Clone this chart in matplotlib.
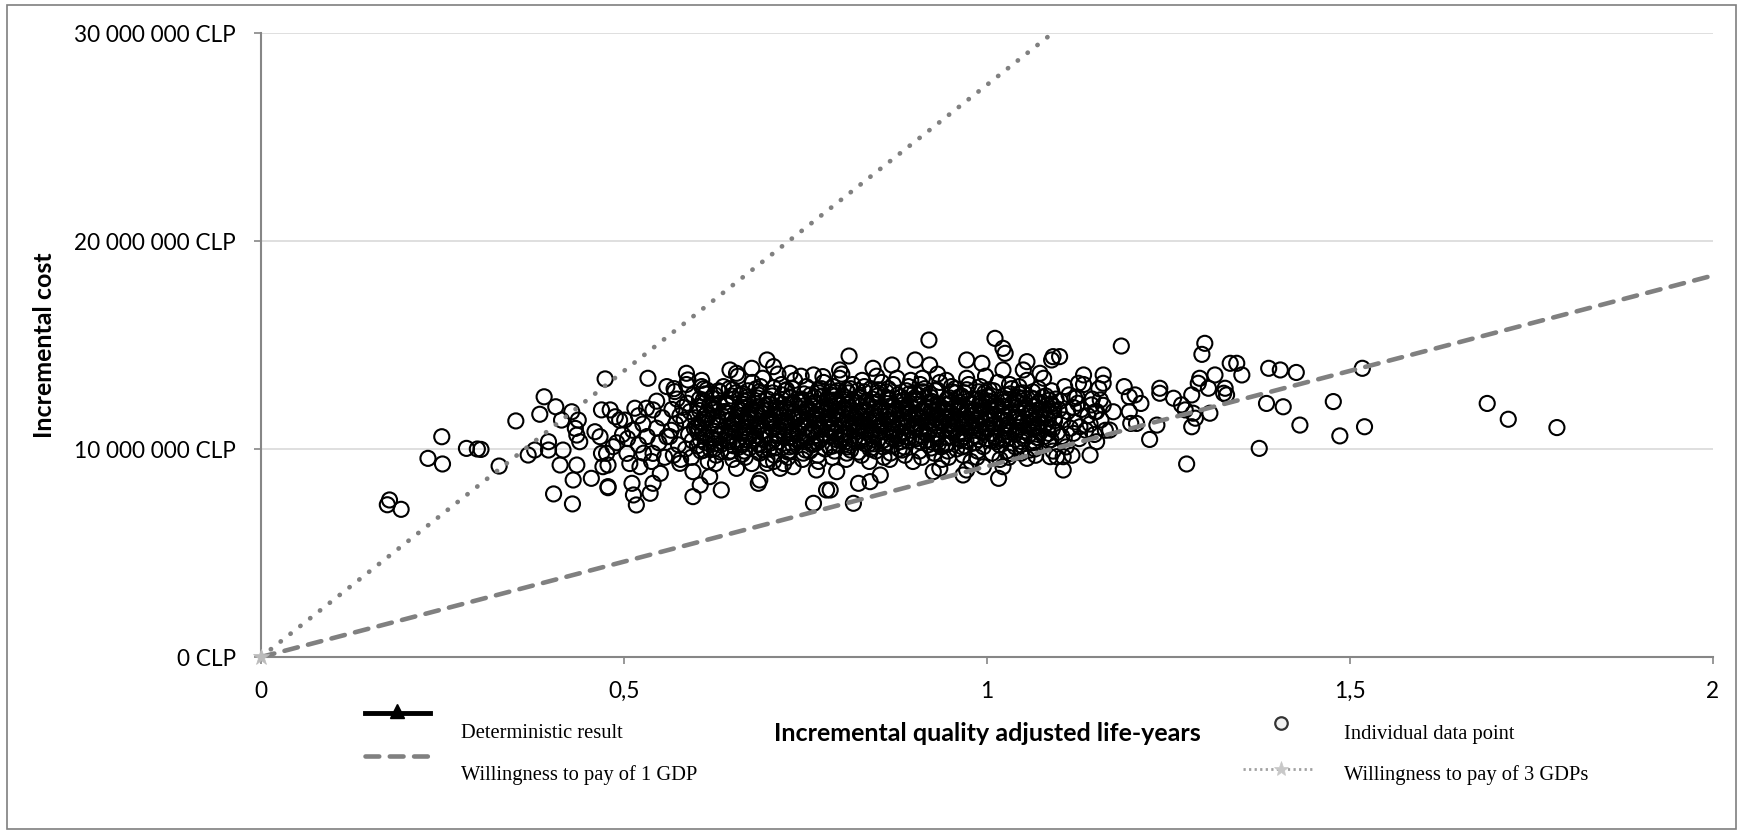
import matplotlib
matplotlib.use("Agg")
from matplotlib import pyplot as plt
from matplotlib.lines import Line2D
from matplotlib.patches import Rectangle
from matplotlib.ticker import FuncFormatter

# incremental QALY, incremental cost in millions of CLP
left_tail = [
    (0.177, 7.55), (0.174, 7.32), (0.193, 7.10), (0.249, 10.59), (0.230, 9.55), (0.250, 9.28),
    (0.283, 10.03), (0.298, 10.0), (0.303, 9.98), (0.328, 9.18), (0.351, 11.35), (0.390, 12.51),
    (0.384, 11.67), (0.406, 12.03), (0.368, 9.71), (0.377, 9.95), (0.396, 10.35), (0.396, 9.95),
    (0.414, 11.39), (0.428, 11.79), (0.437, 11.39), (0.433, 10.99), (0.435, 10.67), (0.439, 10.35),
    (0.416, 9.95), (0.412, 9.23), (0.435, 9.23), (0.430, 8.51), (0.403, 7.84), (0.429, 7.36),
    (0.455, 8.59), (0.478, 8.14), (0.474, 13.37), (0.469, 11.88), (0.481, 11.88), (0.460, 10.83),
    (0.467, 10.59), (0.469, 9.79), (0.478, 9.23), (0.471, 9.15), (0.485, 10.11), (0.494, 11.39),
    (0.488, 11.55), (0.501, 11.39), (0.515, 11.96), (0.531, 11.96), (0.540, 11.88), (0.476, 9.79),
    (0.478, 8.19), (0.511, 8.35), (0.513, 7.79), (0.517, 7.31), (0.536, 7.87), (0.540, 8.35),
    (0.550, 8.83), (0.522, 9.15), (0.504, 9.79), (0.540, 9.79), (0.559, 10.59), (0.533, 13.40),
    (0.505, 10.5), (0.512, 10.9), (0.520, 10.2), (0.526, 11.2), (0.532, 10.6), (0.538, 9.4),
    (0.545, 11.0), (0.548, 10.3), (0.553, 11.5), (0.556, 9.6), (0.545, 12.3), (0.520, 11.6),
    (0.498, 10.7), (0.490, 10.3), (0.508, 9.3), (0.527, 9.8),
]

upper_edge = [
    (0.559, 13.0), (0.570, 12.76), (0.586, 13.64), (0.588, 13.32), (0.607, 13.0), (0.614, 12.84),
    (0.646, 13.80), (0.655, 13.64), (0.676, 13.88), (0.697, 14.28), (0.706, 13.96), (0.729, 13.64),
    (0.761, 13.56), (0.774, 13.48), (0.920, 15.24), (1.011, 15.32), (1.022, 14.84), (1.025, 14.60),
    (0.810, 14.47), (0.797, 13.80), (0.843, 13.88), (0.869, 14.04), (0.901, 14.28), (0.921, 14.04),
    (0.972, 14.28), (0.993, 14.12), (1.055, 14.20), (1.091, 14.44), (1.089, 14.28), (1.073, 13.64),
    (1.050, 13.80), (1.022, 13.80), (1.100, 14.44),
]

lower_edge = [
    (0.577, 9.31), (0.595, 7.71), (0.605, 8.27), (0.618, 8.67), (0.634, 8.03), (0.595, 8.91),
    (0.655, 9.07), (0.685, 8.35), (0.687, 8.51), (0.697, 9.31), (0.715, 9.07), (0.733, 9.15),
    (0.761, 7.39), (0.779, 8.03), (0.765, 8.99), (0.793, 8.91), (0.784, 8.03), (0.823, 8.35),
    (0.839, 8.43), (0.816, 7.39), (0.853, 8.75), (0.926, 8.91), (0.935, 9.07), (0.967, 8.75),
    (0.972, 8.99), (0.995, 9.15), (1.016, 8.59), (1.022, 9.15), (1.055, 9.55), (1.087, 9.63),
    (1.096, 9.63), (0.995, 10.11), (1.032, 9.79), (1.059, 9.95),
]

right_tail = [
    (1.185, 14.95), (1.300, 15.08), (1.296, 14.55), (1.335, 14.12), (1.344, 14.12), (1.351, 13.56),
    (1.388, 13.88), (1.404, 13.80), (1.314, 13.56), (1.293, 13.40), (1.291, 13.16), (1.305, 12.92),
    (1.328, 12.92), (1.326, 12.68), (1.330, 12.60), (1.282, 12.60), (1.238, 12.92), (1.238, 12.68),
    (1.257, 12.44), (1.268, 12.12), (1.273, 11.88), (1.284, 11.72), (1.287, 11.48), (1.307, 11.72),
    (1.282, 11.07), (1.385, 12.19), (1.408, 12.03), (1.375, 10.03), (1.275, 9.28), (1.234, 11.15),
    (1.224, 10.46), (1.212, 12.19), (1.204, 12.60), (1.196, 12.51), (1.189, 13.0), (1.196, 11.79),
    (1.198, 11.23), (1.206, 11.23), (1.174, 11.79), (1.160, 13.56), (1.160, 13.16), (1.133, 13.56),
    (1.126, 13.16), (1.121, 12.44), (1.144, 12.12), (1.149, 11.79), (1.156, 12.36), (1.169, 10.91),
    (1.151, 10.35), (1.142, 9.71), (1.128, 11.07), (1.119, 10.75), (1.105, 9.63), (1.105, 8.99),
    (1.426, 13.68), (1.517, 13.88), (1.477, 12.28), (1.431, 11.15), (1.486, 10.63), (1.520, 11.07),
    (1.689, 12.19), (1.718, 11.43), (1.785, 11.03),
]

core = [
    (0.563, 10.6), (0.566, 11.9), (0.568, 9.7), (0.571, 11.2), (0.573, 12.4), (0.575, 10.2), (0.577, 11.6), (0.569, 12.9), (0.565, 10.9), (0.578, 9.5),
    (0.583, 11.4), (0.585, 10.0), (0.587, 12.2), (0.589, 10.7), (0.591, 11.8), (0.593, 9.6), (0.595, 12.6), (0.597, 11.0), (0.586, 13.1), (0.594, 10.4), (0.598, 11.5), (0.581, 12.0),
    (0.602, 10.8), (0.604, 12.4), (0.606, 9.9), (0.608, 11.3), (0.610, 12.9), (0.612, 10.3), (0.614, 11.7), (0.616, 9.4), (0.618, 12.1), (0.603, 11.0), (0.607, 13.3), (0.611, 10.6), (0.615, 11.5), (0.619, 10.0),
    (0.621, 11.9), (0.623, 10.5), (0.625, 12.6), (0.627, 9.7), (0.629, 11.1), (0.631, 12.2), (0.633, 10.2), (0.635, 11.6), (0.637, 13.0), (0.639, 10.9), (0.622, 11.4), (0.626, 9.3), (0.630, 12.8), (0.634, 10.7), (0.638, 11.8), (0.624, 10.0),
    (0.641, 10.4), (0.643, 11.7), (0.645, 12.9), (0.647, 9.9), (0.649, 11.2), (0.651, 12.4), (0.653, 10.8), (0.655, 11.5), (0.657, 13.5), (0.659, 10.1), (0.642, 12.1), (0.646, 11.0), (0.650, 9.5), (0.654, 12.7), (0.658, 11.9), (0.644, 10.6), (0.652, 11.3), (0.656, 10.3),
    (0.661, 11.6), (0.663, 10.2), (0.665, 12.3), (0.667, 9.6), (0.669, 11.0), (0.671, 12.8), (0.673, 10.6), (0.675, 11.9), (0.677, 13.2), (0.679, 10.9), (0.662, 11.3), (0.666, 9.9), (0.670, 12.5), (0.674, 11.4), (0.678, 10.4), (0.664, 12.0), (0.668, 10.8), (0.672, 11.7), (0.676, 9.3), (0.660, 12.6),
    (0.681, 10.5), (0.683, 11.8), (0.685, 12.6), (0.687, 9.8), (0.689, 11.2), (0.691, 13.4), (0.693, 10.9), (0.695, 12.1), (0.697, 9.5), (0.699, 11.5), (0.682, 12.9), (0.686, 10.2), (0.690, 11.7), (0.694, 10.7), (0.698, 12.4), (0.684, 11.0), (0.688, 13.0), (0.692, 10.0), (0.696, 11.3), (0.680, 12.2),
    (0.701, 11.9), (0.703, 10.3), (0.705, 12.7), (0.707, 9.7), (0.709, 11.1), (0.711, 12.3), (0.713, 10.7), (0.715, 11.6), (0.717, 13.1), (0.719, 10.1), (0.702, 11.4), (0.706, 9.4), (0.710, 12.0), (0.714, 10.9), (0.718, 12.6), (0.704, 11.2), (0.708, 10.5), (0.712, 13.6), (0.716, 11.8), (0.700, 10.0),
    (0.721, 10.6), (0.723, 12.0), (0.725, 11.3), (0.727, 9.9), (0.729, 12.5), (0.731, 10.9), (0.733, 11.7), (0.735, 13.3), (0.737, 10.3), (0.739, 11.5), (0.722, 12.8), (0.726, 9.6), (0.730, 11.1), (0.734, 12.2), (0.738, 10.8), (0.724, 11.9), (0.728, 10.1), (0.732, 12.9), (0.736, 11.4), (0.720, 9.3),
    (0.741, 11.7), (0.743, 10.4), (0.745, 12.4), (0.747, 9.8), (0.749, 11.0), (0.751, 13.0), (0.753, 10.7), (0.755, 11.9), (0.757, 12.6), (0.759, 10.2), (0.742, 11.3), (0.746, 9.5), (0.750, 12.1), (0.754, 11.5), (0.758, 10.9), (0.744, 13.5), (0.748, 10.6), (0.752, 11.8), (0.756, 9.9), (0.740, 12.3),
    (0.761, 10.8), (0.763, 12.2), (0.765, 11.4), (0.767, 9.7), (0.769, 12.7), (0.771, 10.5), (0.773, 11.6), (0.775, 13.2), (0.777, 10.0), (0.779, 11.9), (0.762, 12.5), (0.766, 10.3), (0.770, 11.1), (0.774, 12.0), (0.778, 10.7), (0.764, 11.7), (0.768, 9.4), (0.772, 12.9), (0.776, 11.3), (0.760, 10.9),
    (0.781, 11.5), (0.783, 10.1), (0.785, 12.6), (0.787, 9.6), (0.789, 11.2), (0.791, 12.2), (0.793, 10.8), (0.795, 11.8), (0.797, 13.4), (0.799, 10.4), (0.782, 12.0), (0.786, 11.0), (0.790, 9.9), (0.794, 12.8), (0.798, 11.4), (0.784, 10.6), (0.788, 13.0), (0.792, 11.6), (0.796, 10.2), (0.780, 12.4),
    (0.801, 10.7), (0.803, 12.0), (0.805, 11.3), (0.807, 9.8), (0.809, 12.7), (0.811, 10.3), (0.813, 11.7), (0.815, 13.1), (0.817, 10.9), (0.819, 11.5), (0.802, 12.4), (0.806, 9.5), (0.810, 11.0), (0.814, 12.3), (0.818, 10.5), (0.804, 11.9), (0.808, 10.1), (0.812, 12.9), (0.816, 11.2), (0.800, 13.6),
    (0.821, 11.8), (0.823, 10.4), (0.825, 12.5), (0.827, 9.7), (0.829, 11.1), (0.831, 13.0), (0.833, 10.8), (0.835, 12.1), (0.837, 11.4), (0.839, 10.0), (0.822, 12.8), (0.826, 11.6), (0.830, 10.6), (0.834, 12.3), (0.838, 9.4), (0.824, 11.0), (0.828, 13.3), (0.832, 11.9), (0.836, 10.2), (0.820, 11.3),
    (0.841, 10.9), (0.843, 12.2), (0.845, 11.5), (0.847, 9.9), (0.849, 12.7), (0.851, 10.5), (0.853, 11.8), (0.855, 13.2), (0.857, 10.1), (0.859, 11.2), (0.842, 12.4), (0.846, 10.7), (0.850, 11.0), (0.854, 12.0), (0.858, 9.6), (0.844, 11.7), (0.848, 13.5), (0.852, 11.3), (0.856, 10.4), (0.840, 12.9),
    (0.861, 11.6), (0.863, 10.3), (0.865, 12.4), (0.867, 9.8), (0.869, 11.2), (0.871, 13.1), (0.873, 10.7), (0.875, 11.9), (0.877, 12.6), (0.879, 10.0), (0.862, 11.4), (0.866, 9.5), (0.870, 12.1), (0.874, 11.0), (0.878, 10.5), (0.864, 12.9), (0.868, 10.9), (0.872, 11.7), (0.876, 13.4), (0.860, 10.2),
    (0.881, 10.8), (0.883, 12.1), (0.885, 11.3), (0.887, 9.7), (0.889, 12.8), (0.891, 10.4), (0.893, 11.7), (0.895, 13.3), (0.897, 10.9), (0.899, 11.5), (0.882, 12.5), (0.886, 10.1), (0.890, 11.1), (0.894, 12.2), (0.898, 9.4), (0.884, 11.9), (0.888, 10.6), (0.892, 13.0), (0.896, 11.4), (0.880, 12.3),
    (0.901, 11.7), (0.903, 10.5), (0.905, 12.6), (0.907, 9.9), (0.909, 11.0), (0.911, 13.4), (0.913, 10.8), (0.915, 12.0), (0.917, 11.3), (0.919, 10.2), (0.902, 12.3), (0.906, 11.5), (0.910, 9.6), (0.914, 12.9), (0.918, 10.7), (0.904, 11.1), (0.908, 13.1), (0.912, 11.8), (0.916, 10.4), (0.900, 12.7),
    (0.921, 10.9), (0.923, 12.3), (0.925, 11.6), (0.927, 9.8), (0.929, 12.8), (0.931, 10.6), (0.933, 11.9), (0.935, 13.2), (0.937, 10.1), (0.939, 11.3), (0.922, 12.5), (0.926, 10.3), (0.930, 11.1), (0.934, 12.1), (0.938, 9.5), (0.924, 11.8), (0.928, 10.7), (0.932, 13.6), (0.936, 11.4), (0.920, 12.0),
    (0.941, 11.5), (0.943, 10.2), (0.945, 12.4), (0.947, 9.6), (0.949, 11.2), (0.951, 13.0), (0.953, 10.8), (0.955, 12.0), (0.957, 12.7), (0.959, 10.5), (0.942, 11.8), (0.946, 9.9), (0.950, 12.2), (0.954, 11.0), (0.958, 10.0), (0.944, 13.3), (0.948, 10.9), (0.952, 11.6), (0.956, 12.9), (0.940, 11.3),
    (0.961, 10.7), (0.963, 12.1), (0.965, 11.4), (0.967, 9.7), (0.969, 12.7), (0.971, 10.4), (0.973, 11.8), (0.975, 13.1), (0.977, 11.0), (0.979, 11.6), (0.962, 12.5), (0.966, 10.1), (0.970, 11.2), (0.974, 12.3), (0.978, 9.4), (0.964, 11.9), (0.968, 10.6), (0.972, 13.4), (0.976, 11.3), (0.960, 12.0),
    (0.981, 11.6), (0.983, 10.3), (0.985, 12.4), (0.987, 9.9), (0.989, 11.1), (0.991, 13.0), (0.993, 10.8), (0.995, 12.0), (0.997, 12.7), (0.999, 10.5), (0.982, 11.8), (0.986, 9.6), (0.990, 12.2), (0.994, 11.3), (0.998, 13.5), (0.984, 10.9),
    (1.001, 11.0), (1.003, 12.3), (1.005, 11.5), (1.007, 9.8), (1.009, 12.8), (1.011, 10.6), (1.013, 11.9), (1.015, 13.2), (1.017, 10.2), (1.019, 11.4), (1.002, 12.5), (1.006, 10.4), (1.010, 11.2), (1.014, 12.1), (1.018, 9.5), (1.004, 11.7),
    (1.021, 11.8), (1.023, 10.5), (1.025, 12.6), (1.027, 9.9), (1.029, 11.2), (1.031, 13.1), (1.033, 10.8), (1.035, 12.2), (1.037, 11.5), (1.039, 10.1), (1.022, 12.4), (1.026, 11.0), (1.030, 9.6), (1.034, 12.9), (1.038, 10.7), (1.024, 11.6),
    (1.041, 10.9), (1.043, 12.2), (1.045, 11.4), (1.047, 9.8), (1.049, 12.7), (1.051, 10.5), (1.053, 11.9), (1.055, 13.3), (1.057, 11.1), (1.059, 11.7), (1.042, 12.5), (1.046, 10.2), (1.050, 11.3), (1.054, 12.0), (1.058, 10.7), (1.044, 13.0),
    (1.061, 11.5), (1.063, 10.3), (1.065, 12.4), (1.067, 9.7), (1.069, 11.1), (1.071, 12.9), (1.073, 10.8), (1.075, 11.9), (1.077, 12.5), (1.079, 10.6), (1.062, 11.8), (1.066, 10.0), (1.070, 12.2), (1.074, 11.3), (1.078, 13.4), (1.064, 11.0),
    (1.081, 11.2), (1.083, 12.1), (1.085, 10.4), (1.087, 11.7), (1.089, 12.8), (1.091, 9.9), (1.093, 11.5), (1.095, 12.4), (1.097, 10.8), (1.099, 11.9),
    (1.101, 12.3), (1.103, 10.6), (1.105, 11.4), (1.107, 13.0), (1.109, 10.1), (1.111, 11.8), (1.113, 12.6), (1.115, 11.0), (1.117, 9.7), (1.119, 12.0),
    (1.121, 11.3), (1.124, 12.5), (1.127, 10.5), (1.130, 11.9), (1.133, 13.1), (1.136, 10.9), (1.139, 11.6), (1.125, 12.2),
    (1.142, 11.2), (1.145, 12.4), (1.148, 10.7), (1.151, 11.8), (1.154, 12.9), (1.157, 11.4), (1.160, 12.1), (1.163, 10.9),
]

core_fill = [
    (0.600, 11.05), (0.605, 10.45), (0.609, 12.35), (0.613, 11.65), (0.601, 10.15), (0.604, 11.85), (0.608, 10.75), (0.612, 12.65), (0.606, 11.25), (0.610, 9.95), (0.603, 12.05), (0.611, 11.45),
    (0.620, 10.55), (0.625, 11.95), (0.629, 11.15), (0.633, 9.85), (0.621, 12.45), (0.624, 10.85), (0.628, 11.55), (0.632, 12.75), (0.626, 10.25), (0.630, 11.35), (0.623, 12.15), (0.631, 10.65),
    (0.640, 12.25), (0.645, 10.35), (0.649, 11.45), (0.653, 10.95), (0.641, 11.75), (0.644, 9.85), (0.648, 12.55), (0.652, 11.15), (0.646, 10.65), (0.650, 12.85), (0.643, 11.35), (0.651, 10.15),
    (0.660, 10.75), (0.665, 12.15), (0.669, 11.35), (0.673, 10.05), (0.661, 11.85), (0.664, 12.65), (0.668, 10.45), (0.672, 11.55), (0.666, 11.05), (0.670, 12.35), (0.663, 9.75), (0.671, 11.75),
    (0.680, 11.45), (0.685, 10.25), (0.689, 12.05), (0.693, 11.85), (0.681, 10.65), (0.684, 12.45), (0.688, 11.15), (0.692, 9.95), (0.686, 12.75), (0.690, 10.85), (0.683, 11.65), (0.691, 10.45),
    (0.700, 12.15), (0.705, 10.95), (0.709, 11.65), (0.713, 10.35), (0.701, 11.25), (0.704, 12.55), (0.708, 10.05), (0.712, 11.85), (0.706, 12.95), (0.710, 10.65), (0.703, 11.45), (0.711, 12.25),
    (0.720, 10.85), (0.725, 11.75), (0.729, 12.45), (0.733, 10.15), (0.721, 11.35), (0.724, 12.85), (0.728, 10.55), (0.732, 11.55), (0.726, 9.85), (0.730, 12.15), (0.723, 11.05), (0.731, 10.75),
    (0.740, 11.55), (0.745, 12.25), (0.749, 10.35), (0.753, 11.95), (0.741, 10.75), (0.744, 11.15), (0.748, 12.65), (0.752, 10.55), (0.746, 11.75), (0.750, 9.95), (0.743, 12.35), (0.751, 11.35),
    (0.760, 12.05), (0.765, 10.65), (0.769, 11.25), (0.773, 12.55), (0.761, 10.25), (0.764, 11.65), (0.768, 12.85), (0.772, 10.95), (0.766, 11.45), (0.770, 10.45), (0.763, 12.25), (0.771, 11.85),
    (0.780, 10.95), (0.785, 11.85), (0.789, 12.35), (0.793, 10.45), (0.781, 11.45), (0.784, 12.75), (0.788, 10.15), (0.792, 11.65), (0.786, 12.05), (0.790, 10.75), (0.783, 11.25), (0.791, 12.55),
    (0.800, 11.65), (0.805, 10.35), (0.809, 12.15), (0.813, 11.25), (0.801, 12.55), (0.804, 10.75), (0.808, 11.45), (0.812, 9.95), (0.806, 12.85), (0.810, 11.05), (0.803, 10.55), (0.811, 11.85),
    (0.820, 12.25), (0.825, 11.15), (0.829, 10.45), (0.833, 11.75), (0.821, 10.85), (0.824, 12.45), (0.828, 11.55), (0.832, 10.25), (0.826, 12.05), (0.830, 11.35), (0.823, 9.85), (0.831, 12.75),
    (0.840, 10.65), (0.845, 11.95), (0.849, 12.55), (0.853, 11.15), (0.841, 11.65), (0.844, 10.25), (0.848, 12.25), (0.852, 10.85), (0.846, 11.35), (0.850, 12.85), (0.843, 10.45), (0.851, 11.85),
    (0.860, 11.85), (0.865, 12.35), (0.869, 10.55), (0.873, 11.45), (0.861, 12.75), (0.864, 11.05), (0.868, 10.15), (0.872, 12.05), (0.866, 11.65), (0.870, 10.85), (0.863, 12.45), (0.871, 11.25),
    (0.880, 11.15), (0.885, 10.75), (0.889, 12.05), (0.893, 12.65), (0.881, 10.35), (0.884, 11.55), (0.888, 11.95), (0.892, 10.55), (0.886, 12.35), (0.890, 11.35), (0.883, 9.95), (0.891, 11.75),
    (0.900, 12.45), (0.905, 11.25), (0.909, 10.65), (0.913, 11.85), (0.901, 11.05), (0.904, 12.15), (0.908, 10.35), (0.912, 12.75), (0.906, 11.55), (0.910, 10.95), (0.903, 12.35), (0.911, 11.45),
    (0.920, 10.85), (0.925, 12.05), (0.929, 11.45), (0.933, 10.25), (0.921, 12.65), (0.924, 11.25), (0.928, 11.85), (0.932, 10.55), (0.926, 12.25), (0.930, 11.65), (0.923, 10.05), (0.931, 12.85),
    (0.940, 11.95), (0.945, 10.55), (0.949, 12.45), (0.953, 11.35), (0.941, 10.95), (0.944, 12.15), (0.948, 11.15), (0.952, 12.75), (0.946, 10.25), (0.950, 11.75), (0.943, 11.55), (0.951, 10.85),
    (0.960, 11.35), (0.965, 12.55), (0.969, 10.75), (0.973, 11.95), (0.961, 12.25), (0.964, 10.45), (0.968, 11.65), (0.972, 12.85), (0.966, 11.05), (0.970, 10.15), (0.963, 12.05), (0.971, 11.45),
    (0.980, 12.15), (0.985, 11.45), (0.989, 10.45), (0.993, 12.45), (0.981, 11.05), (0.984, 11.85), (0.988, 12.75), (0.992, 10.85), (0.986, 11.25), (0.990, 12.05), (0.983, 10.65), (0.991, 11.65),
    (1.000, 10.95), (1.005, 12.25), (1.009, 11.65), (1.013, 10.35), (1.001, 12.55), (1.004, 11.35), (1.008, 10.75), (1.012, 12.05), (1.006, 11.85), (1.010, 11.05), (1.003, 12.85), (1.011, 10.55),
    (1.020, 11.45), (1.025, 10.85), (1.029, 12.35), (1.033, 11.75), (1.021, 10.45), (1.024, 12.05), (1.028, 11.15), (1.032, 12.65), (1.026, 10.65), (1.030, 11.55), (1.023, 12.25), (1.031, 11.05),
    (1.040, 12.35), (1.045, 11.05), (1.049, 10.65), (1.053, 11.85), (1.041, 11.45), (1.044, 12.65), (1.048, 10.35), (1.052, 12.15), (1.046, 11.25), (1.050, 10.85), (1.043, 11.75), (1.051, 12.45),
    (1.060, 11.25), (1.065, 12.05), (1.069, 10.55), (1.073, 11.65), (1.061, 12.45), (1.064, 10.95), (1.068, 11.85), (1.072, 12.25), (1.066, 10.35), (1.070, 11.45), (1.063, 12.75), (1.071, 11.05),
    (1.080, 11.65), (1.085, 10.75), (1.089, 12.15), (1.093, 11.35), (1.081, 12.55), (1.084, 11.05), (1.088, 10.45), (1.092, 11.85), (1.086, 12.35), (1.090, 10.95), (1.083, 11.45), (1.091, 12.05),
]

# willingness-to-pay thresholds, millions of CLP per QALY
wtp_1gdp = 9.17
wtp_3gdp = 3 * wtp_1gdp
wtp_x = [0, 2]

y_ticks = [0, 10, 20, 30]
x_ticks = [0, 0.5, 1, 1.5, 2]
x_tick_labels = ["0", "0,5", "1", "1,5", "2"]

GRAY = "#808080"
AXIS = "#868686"

points = left_tail + core + core_fill + upper_edge + lower_edge + right_tail
qaly = [p[0] for p in points]
cost = [p[1] for p in points]

W, H = 1741, 833
fig = plt.figure(figsize=(W / 100, H / 100), dpi=100)
ax = fig.add_axes([261 / W, 1 - 657 / H, (1713 - 261) / W, (657 - 33) / H])

ax.scatter(qaly, cost, s=118, facecolors="none", edgecolors="black", linewidths=1.5, zorder=3)
ax.plot(wtp_x, [wtp_1gdp * x for x in wtp_x], color=GRAY, lw=3.3, linestyle=(0, (3, 2.3)),
        dash_capstyle="round", zorder=4)
ax.plot(wtp_x, [wtp_3gdp * x for x in wtp_x], color=GRAY, lw=3.4, linestyle=(0, (0.05, 2.6)),
        dash_capstyle="round", zorder=4)
ax.plot([0], [0], marker="*", ms=12, color="#bbbbbb", markeredgewidth=0.5, zorder=5, clip_on=False)

ax.set_xlim(0, 2)
ax.set_ylim(0, 30)
ax.set_xticks(x_ticks)
ax.set_xticklabels(x_tick_labels)
ax.set_yticks(y_ticks)
ax.yaxis.set_major_formatter(FuncFormatter(lambda v, p: f"{v * 1e6:,.0f}".replace(",", " ") + " CLP"))
ax.grid(axis="y", color="#d9d9d9", lw=1.2, zorder=0)
ax.set_axisbelow(True)
for s in ["top", "right"]:
    ax.spines[s].set_visible(False)
for s in ["left", "bottom"]:
    ax.spines[s].set_color(AXIS)
    ax.spines[s].set_linewidth(1.5)
ax.tick_params(axis="y", length=5, width=1.2, color=AXIS, pad=13, labelsize=16.3)
ax.tick_params(axis="x", length=5, width=1.2, color=AXIS, pad=12, labelsize=16.3)
for lab in ax.get_xticklabels() + ax.get_yticklabels():
    lab.set_fontfamily("Lato")

ax.set_xlabel("Incremental quality adjusted life-years", fontsize=18, fontweight="bold", fontfamily="Lato")
ax.set_ylabel("Incremental cost", fontsize=18, fontweight="bold", fontfamily="Lato")
ax.xaxis.set_label_coords(0.5, -0.123)
ax.yaxis.set_label_coords(-0.1494, 0.5)
ax.xaxis.label.set_va("center")
ax.yaxis.label.set_va("center")

# Excel-style legend: sample above, label below
def fx(px):
    return px / W

def fy(py):
    return 1 - py / H

fig.add_artist(Line2D([fx(365), fx(430)], [fy(713), fy(713)], color="black", lw=3.5))
fig.add_artist(Line2D([fx(397)], [fy(711)], marker="^", ms=10, color="black"))
fig.add_artist(Line2D([fx(365), fx(430)], [fy(756), fy(756)], color=GRAY, lw=3.3,
                      linestyle=(0, (3, 2.3)), dash_capstyle="round"))
fig.add_artist(Line2D([fx(1281)], [fy(723)], marker="o", ms=9, mfc="#f2f2f2", mec="#333333", mew=1.6))
fig.add_artist(Line2D([fx(1243), fx(1313)], [fy(769), fy(769)], color="#a0a0a0", lw=2,
                      linestyle=(0, (0.8, 1.2))))
fig.add_artist(Line2D([fx(1281)], [fy(769)], marker="*", ms=11, color="#c8c8c8", markeredgewidth=0.5))

leg_font = dict(fontsize=14.8, fontfamily="Liberation Serif", va="center", ha="left")
fig.text(fx(461), fy(734), "Deterministic result", **leg_font)
fig.text(fx(461), fy(775), "Willingness to pay of 1 GDP", **leg_font)
fig.text(fx(1344), fy(734), "Individual data point", **leg_font)
fig.text(fx(1344), fy(775), "Willingness to pay of 3 GDPs", **leg_font)

fig.add_artist(Rectangle((fx(7), fy(829)), fx(1736) - fx(7), fy(5) - fy(829), fill=False,
                         edgecolor="#7f7f7f", lw=1.2, transform=fig.transFigure))

fig.savefig("out.png", dpi=100)
